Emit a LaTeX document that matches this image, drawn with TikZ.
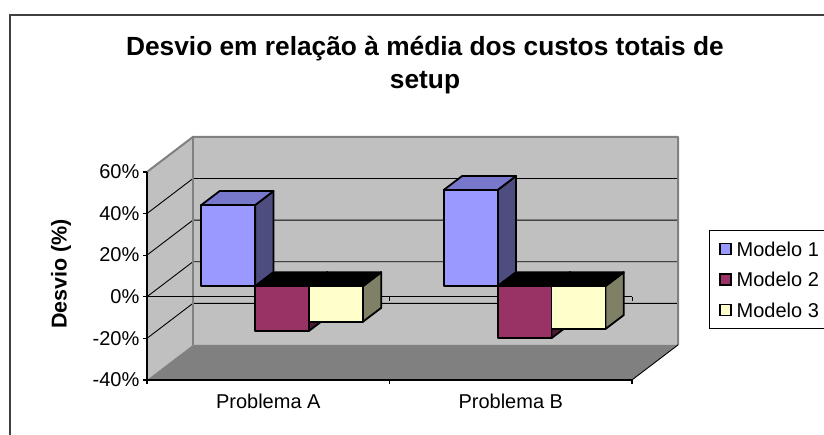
\documentclass[tikz,border=0pt]{standalone}
\usepackage{fontspec}
\setmainfont{Liberation Sans}
\definecolor{wallc}{HTML}{C0C0C0}
\definecolor{floorc}{HTML}{808080}
\definecolor{edgec}{HTML}{808080}
\definecolor{mAf}{HTML}{9999FF}
\definecolor{mAt}{HTML}{7777CC}
\definecolor{mAs}{HTML}{4D4D80}
\definecolor{mBf}{HTML}{993366}
\definecolor{mBs}{HTML}{4D1A33}
\definecolor{mCf}{HTML}{FFFFCC}
\definecolor{mCs}{HTML}{808066}
\definecolor{framec}{HTML}{404040}
\tikzset{
  gridline/.style={black, line width=0.9pt},
  walledge/.style={edgec, line width=2pt},
  axisline/.style={black, line width=1.2pt},
  barface/.style={draw=black, line width=1.8pt, line join=round},
  lbl/.style={font=\fontsize{20}{24}\selectfont, inner sep=0pt},
  boldlbl/.style={font=\bfseries\fontsize{21.5}{26}\selectfont, inner sep=0pt},
  titlelbl/.style={font=\bfseries\fontsize{26.3}{32.6}\selectfont, inner sep=0pt},
  legsq/.style={draw=black, line width=1.8pt, minimum size=11pt, inner sep=0pt}
}
% front-plane helpers: Y(v) = 296.7 - 2.08 v ; bar depth from (13.8,-10.5) to (32.2,-24.5)
\newcommand\barpos[5]{% #1 left x (front plane), #2 value, #3 front, #4 top, #5 side
  \pgfmathsetmacro\xl{#1+13.8}\pgfmathsetmacro\xr{#1+13.8+53.9}
  \pgfmathsetmacro\xlb{#1+32.2}\pgfmathsetmacro\xrb{#1+32.2+53.9}
  \pgfmathsetmacro\yv{296.7-2.08*#2-10.5}\pgfmathsetmacro\yz{296.7-10.5}
  \pgfmathsetmacro\yvb{296.7-2.08*#2-24.5}\pgfmathsetmacro\yzb{296.7-24.5}
  \ifdim #2pt>0pt
    \filldraw[barface, fill=#5] (\xr,\yv) -- (\xrb,\yvb) -- (\xrb,\yzb) -- (\xr,\yz) -- cycle;
    \filldraw[barface, fill=#4] (\xl,\yv) -- (\xr,\yv) -- (\xrb,\yvb) -- (\xlb,\yvb) -- cycle;
    \filldraw[barface, fill=#3] (\xl,\yv) rectangle (\xr,\yz);
  \else
    \filldraw[barface, fill=#5] (\xr,\yz) -- (\xrb,\yzb) -- (\xrb,\yvb) -- (\xr,\yv) -- cycle;
    \filldraw[barface, fill=#4] (\xl,\yz) -- (\xr,\yz) -- (\xrb,\yzb) -- (\xlb,\yzb) -- cycle;
    \filldraw[barface, fill=#3] (\xl,\yz) rectangle (\xr,\yv);
  \fi
}
\begin{document}
\begin{tikzpicture}[x=1pt,y=-1pt]
\useasboundingbox (0,0) rectangle (824,434);
\clip (0,0) rectangle (824,434);
\fill[white] (0,0) rectangle (824,434);
% outer frame
\draw[framec, line width=1.2pt] (10,440) -- (10,15) -- (830,15);
% walls and floor
\fill[wallc] (147,171.9) -- (193,136.9) -- (193,344.9) -- (147,379.9) -- cycle;
\fill[wallc] (193,136.9) rectangle (678,344.9);
\fill[floorc] (147,379.9) -- (632,379.9) -- (678,344.9) -- (193,344.9) -- cycle;
% gridlines
\foreach \v in {40,20,0,-20} {
  \pgfmathsetmacro\yy{296.7-2.08*\v}
  \draw[gridline] (147,\yy) -- (193,\yy-35) -- (678,\yy-35);
}
% wall edges
\draw[walledge, line join=round] (147,171.9) -- (193,136.9) -- (678,136.9) -- (678,344.9);
\draw[walledge] (193,136.9) -- (193,344.9);
\draw[black, line width=0.9pt] (632,379.9) -- (678,344.9);
% front zero line
\draw[gridline] (147,296.7) -- (632,296.7);
\draw[gridline] (389.5,296.7) -- (389.5,300.7);
\draw[gridline] (632,296.7) -- (632,300.7);
% axes
\draw[axisline] (147,171.9) -- (147,379.9) -- (632,379.9);
\foreach \v in {60,40,20,0,-20,-40} {
  \pgfmathsetmacro\yy{296.7-2.08*\v}
  \draw[axisline] (143,\yy) -- (147,\yy);
}
\draw[axisline] (147,379.9) -- (147,384);
\draw[axisline] (389.5,379.9) -- (389.5,384);
\draw[axisline] (632,379.9) -- (632,384);
% bars, Problema A
\barpos{187.4}{39.0}{mAf}{mAt}{mAs}
\barpos{241.3}{-21.5}{mBf}{black}{mBs}
\barpos{295.2}{-17.1}{mCf}{black}{mCs}
% bars, Problema B
\barpos{429.9}{46.25}{mAf}{mAt}{mAs}
\barpos{483.8}{-25.0}{mBf}{black}{mBs}
\barpos{537.7}{-20.6}{mCf}{black}{mCs}
% axis labels
\node[lbl, anchor=east] (l60) at (139.5,171.9) {60\%};
\node[lbl, anchor=east] (l40) at (139.5,213.5) {40\%};
\node[lbl, anchor=east] (l20) at (139.5,255.1) {20\%};
\node[lbl, anchor=east] (l0) at (139.5,296.7) {0\%};
\node[lbl, anchor=east] (lm20) at (139.5,338.3) {-20\%};
\node[lbl, anchor=east] (lm40) at (139.5,379.9) {-40\%};
\node[lbl] (pa) at (268.3,401) {Problema A};
\node[lbl] (pb) at (510.8,401) {Problema B};
\node[boldlbl, rotate=90] (ytitle) at (61,274) {Desvio (\%)};
\node[titlelbl, align=center] (title) at (425,65) {Desvio em relação à média dos custos totais de\\setup};
% legend
\draw[black, line width=1pt] (709.3,230) rectangle (830,328.3);
\node[legsq, fill=mAf] (s1) at (725.5,249) {};
\node[legsq, fill=mBf] (s2) at (725.5,279.5) {};
\node[legsq, fill=mCf] (s3) at (725.5,310) {};
\node[lbl, anchor=west] (t1) at (736.5,249) {Modelo 1};
\node[lbl, anchor=west] (t2) at (736.5,279.5) {Modelo 2};
\node[lbl, anchor=west] (t3) at (736.5,310) {Modelo 3};
\end{tikzpicture}
\end{document}
